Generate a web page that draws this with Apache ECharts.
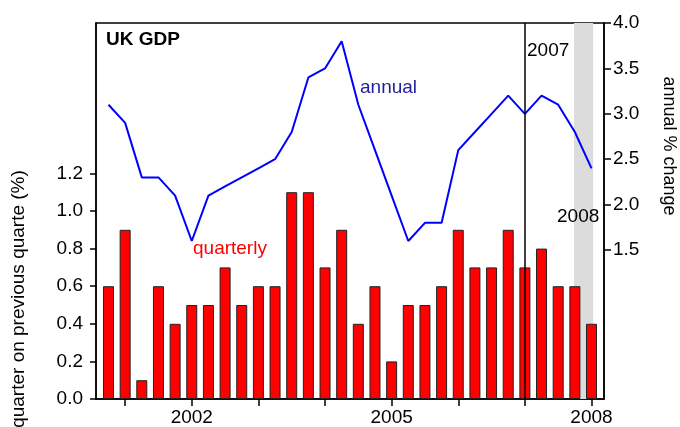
<!DOCTYPE html>
<html>
<head>
    <meta charset="utf-8">
    <title>UK GDP</title>
    <script src="https://cdn.jsdelivr.net/npm/echarts@6.0.0/dist/echarts.min.js"></script>
    <style>
        html, body { margin: 0; padding: 0; background: #fff; }
        #chart1 { width: 680px; height: 427px; }
    </style>
</head>
<body>
<div id="chart1"></div>
<script type="text/javascript">
    // quarters 2000 Q4 .. 2008 Q1
    var quarters = ['2000Q4',
        '2001Q1','2001Q2','2001Q3','2001Q4',
        '2002Q1','2002Q2','2002Q3','2002Q4',
        '2003Q1','2003Q2','2003Q3','2003Q4',
        '2004Q1','2004Q2','2004Q3','2004Q4',
        '2005Q1','2005Q2','2005Q3','2005Q4',
        '2006Q1','2006Q2','2006Q3','2006Q4',
        '2007Q1','2007Q2','2007Q3','2007Q4',
        '2008Q1'];
    // quarter on previous quarter (%)
    var quarterly = [0.6, 0.9, 0.1, 0.6, 0.4, 0.5, 0.5, 0.7, 0.5, 0.6,
                     0.6, 1.1, 1.1, 0.7, 0.9, 0.4, 0.6, 0.2, 0.5, 0.5,
                     0.6, 0.9, 0.7, 0.7, 0.9, 0.7, 0.8, 0.6, 0.6, 0.4];
    // annual % change
    var annual = [3.1, 2.9, 2.3, 2.3, 2.1, 1.6, 2.1, 2.2, 2.3, 2.4,
                  2.5, 2.8, 3.4, 3.5, 3.8, 3.1, 2.6, 2.1, 1.6, 1.8,
                  1.8, 2.6, 2.8, 3.0, 3.2, 3.0, 3.2, 3.1, 2.8, 2.4];
    var leftTicks = [0, 0.2, 0.4, 0.6, 0.8, 1.0, 1.2];
    var rightTicks = [1.5, 2.0, 2.5, 3.0, 3.5, 4.0];
    var yearTickQuarters = ['2001Q1','2002Q1','2003Q1','2004Q1','2005Q1','2006Q1','2007Q1','2008Q1'];
    var yearLabelQuarters = ['2002Q1','2005Q1','2008Q1'];
    var markerQuarter = '2007Q1';
    var shadeRange = [28.95, 30.1];  // in quarter positions

    var pos = function (q) { return quarters.indexOf(q) + 1; };
    var barData = quarterly.map(function (v, i) { return [i + 1, v]; });
    var lineData = annual.map(function (v, i) { return [i + 1, v]; });

    var font = 'Liberation Sans, Arial, sans-serif';
    var myChart = echarts.init(document.getElementById('chart1'));

    var option = {
        animation: false,
        grid: {
            left: 96, right: 76, top: 23, bottom: 25,
            show: true, borderColor: '#000', borderWidth: 1.5
        },
        xAxis: {
            type: 'value',
            min: 0.25, max: 30.75,
            splitLine: { show: false },
            axisLine: { lineStyle: { color: '#000', width: 1.5 } },
            axisTick: {
                show: true, length: 7, lineStyle: { color: '#000', width: 1.5 },
                customValues: yearTickQuarters.map(pos)
            },
            axisLabel: {
                customValues: yearLabelQuarters.map(pos),
                formatter: function (v) { return quarters[Math.round(v) - 1].slice(0, 4); },
                color: '#000', fontSize: 19, fontFamily: font, margin: 9
            }
        },
        yAxis: [{
            type: 'value',
            min: 0, max: 2.0,
            splitLine: { show: false },
            axisLine: { show: true, lineStyle: { color: '#000', width: 1.5 } },
            axisTick: { show: true, length: 6, lineStyle: { color: '#000', width: 1.5 }, customValues: leftTicks },
            axisLabel: {
                customValues: leftTicks,
                formatter: function (v) { return v.toFixed(1); },
                color: '#000', fontSize: 19, fontFamily: font, margin: 13
            }
        }, {
            type: 'value',
            position: 'right',
            min: -0.14, max: 4.0,
            splitLine: { show: false },
            axisLine: { show: true, lineStyle: { color: '#000', width: 1.5 } },
            axisTick: { show: true, length: 7, lineStyle: { color: '#000', width: 1.5 }, customValues: rightTicks },
            axisLabel: {
                customValues: rightTicks,
                formatter: function (v) { return v.toFixed(1); },
                color: '#000', fontSize: 19, fontFamily: font, margin: 9
            }
        }],
        series: [{
            name: 'quarterly',
            type: 'bar',
            yAxisIndex: 0,
            data: barData,
            barWidth: 11,
            itemStyle: { color: '#ff0000', borderColor: '#222', borderWidth: 1 },
            markArea: {
                silent: true,
                itemStyle: { color: '#dcdcdc' },
                data: [[{ xAxis: shadeRange[0] }, { xAxis: shadeRange[1] }]]
            },
            markLine: {
                silent: true,
                symbol: 'none',
                label: { show: false },
                lineStyle: { color: '#000', width: 1.5, type: 'solid' },
                data: [{ xAxis: pos(markerQuarter) }]
            },
            z: 3
        }, {
            name: 'annual',
            type: 'line',
            yAxisIndex: 1,
            data: lineData,
            symbol: 'none',
            lineStyle: { color: '#0000ff', width: 2 },
            z: 4
        }],
        graphic: [
            { type: 'text', left: 106, top: 30, z: 10,
              style: { text: 'UK GDP', font: 'bold 19px ' + font, fill: '#000' } },
            { type: 'text', x: 360, y: 88, z: 10,
              style: { text: 'annual', font: '19px ' + font, fill: '#1f1f9f', verticalAlign: 'middle' } },
            { type: 'text', x: 193, y: 249, z: 10,
              style: { text: 'quarterly', font: '19px ' + font, fill: '#ff0000', verticalAlign: 'middle' } },
            { type: 'text', x: 527, y: 51, z: 10,
              style: { text: '2007', font: '19px ' + font, fill: '#000', verticalAlign: 'middle' } },
            { type: 'text', x: 557, y: 217, z: 10,
              style: { text: '2008', font: '19px ' + font, fill: '#000', verticalAlign: 'middle' } },
            { type: 'text', x: 19, y: 299, rotation: Math.PI / 2, z: 10,
              style: { text: 'quarter on previous quarte (%)', font: '19px ' + font, fill: '#000',
                       align: 'center', verticalAlign: 'middle' } },
            { type: 'text', x: 669, y: 146, rotation: -Math.PI / 2, z: 10,
              style: { text: 'annual % change', font: '18px ' + font, fill: '#000',
                       align: 'center', verticalAlign: 'middle' } }
        ]
    };
    myChart.setOption(option);
</script>
</body>
</html>
